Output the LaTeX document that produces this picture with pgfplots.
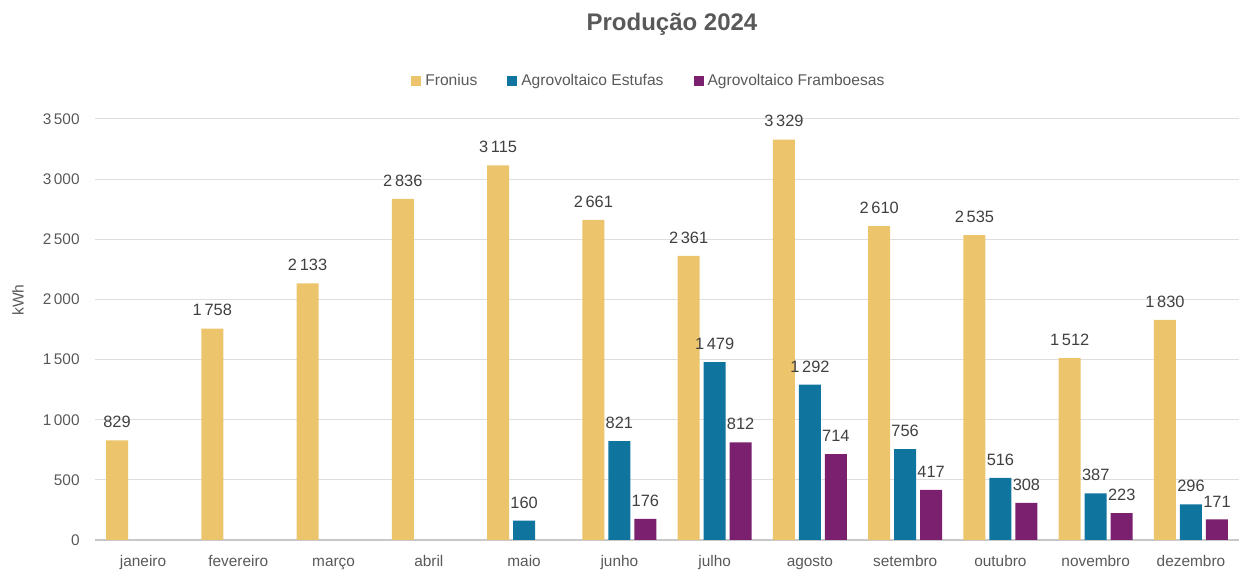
\documentclass[border=0pt]{standalone}
\usepackage{pgfplots}
\pgfplotsset{compat=1.18}
\usepackage{fontspec}
\setmainfont{Liberation Sans}
\definecolor{fron}{RGB}{235,196,108}
\definecolor{estu}{RGB}{15,117,158}
\definecolor{fram}{RGB}{122,32,110}
\definecolor{txt}{RGB}{89,89,89}
\definecolor{lbl}{RGB}{64,64,64}
\definecolor{gridc}{RGB}{222,222,222}
\definecolor{axc}{RGB}{200,200,200}

\begin{document}
\begin{tikzpicture}[x=1pt,y=1pt]
\path[use as bounding box] (0,0) rectangle (619.5,286);
\begin{axis}[
  at={(47.7pt,16pt)}, anchor=south west,
  scale only axis, width=571.6pt, height=210.5pt,
  xmin=-0.5, xmax=11.5, ymin=0, ymax=3500,
  xtick={0,...,11},
  xticklabels={janeiro,fevereiro,março,abril,maio,junho,julho,agosto,setembro,outubro,novembro,dezembro},
  ytick={0,500,...,3500},
  major tick length=0pt,
  axis x line*=bottom,
  axis y line*=left,
  y axis line style={draw=none},
  x axis line style={draw=axc, line width=0.6pt},
  ymajorgrids,
  grid style={draw=gridc, line width=0.5pt},
  /pgf/number format/.cd, 1000 sep={\,}, assume math mode=true,
  /pgfplots/.cd,
  ticklabel style={font=\fontsize{7.7}{9}\selectfont, text=txt},
  yticklabel style={anchor=east, inner sep=0pt, xshift=-7.7pt},
  xticklabel style={anchor=base, inner sep=0pt, yshift=-13.5pt},
  ybar, bar width=11pt,
  nodes near coords,
  every node near coord/.append style={font=\fontsize{8.2}{10}\selectfont, text=lbl, anchor=south, inner sep=0pt, yshift=6pt},
  legend style={at={(0.485,1.09)}, anchor=center, legend columns=-1, draw=none, fill=none,
    font=\fontsize{7.8}{9}\selectfont, text=txt,
    /tikz/every even column/.append style={column sep=13pt}},
  legend image code/.code={\fill[#1] (0pt,-2.5pt) rectangle (5pt,2.5pt);},
]
\addplot[fill=fron, draw=none, bar shift=-13pt] coordinates {
  (0,829) (1,1758) (2,2133) (3,2836) (4,3115) (5,2661)
  (6,2361) (7,3329) (8,2610) (9,2535) (10,1512) (11,1830)};
\addlegendentry{Fronius}
\addplot[fill=estu, draw=none, bar shift=0pt] coordinates {
  (4,160) (5,821) (6,1479) (7,1292) (8,756) (9,516) (10,387) (11,296)};
\addlegendentry{Agrovoltaico Estufas}
\addplot[fill=fram, draw=none, bar shift=13pt] coordinates {
  (5,176) (6,812) (7,714) (8,417) (9,308) (10,223) (11,171)};
\addlegendentry{Agrovoltaico Framboesas}
\end{axis}
\node[font=\bfseries\fontsize{12}{14}\selectfont, text=txt] at (336,274) {Produção 2024};
\node[rotate=90, font=\fontsize{7.8}{9}\selectfont, text=txt] at (9,136) {kWh};
\end{tikzpicture}
\end{document}
